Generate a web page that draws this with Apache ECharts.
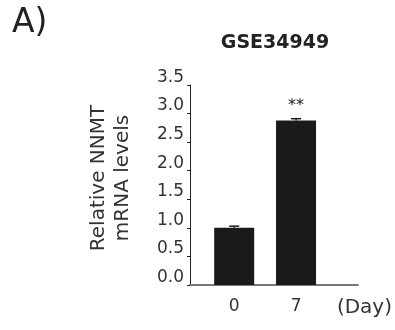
<!DOCTYPE html>
<html>
<head>
<meta charset="utf-8">
<script src="https://cdn.jsdelivr.net/npm/echarts@6/dist/echarts.min.js"></script>
<style>html,body{margin:0;padding:0;background:#fff}#c{width:395px;height:330px}</style>
</head>
<body>
<div id="c"></div>
<script>
var days = [0, 7];
var values = [1.0, 2.88];
var errors = [0.03, 0.03];
var marks = ['', '**'];
var yTicks = [0, 0.5, 1.0, 1.5, 2.0, 2.5, 3.0, 3.5];

var chart = echarts.init(document.getElementById('c'), null, {renderer: 'canvas'});
var font = 'DejaVu Sans';
chart.setOption({
  animation: false,
  backgroundColor: '#fff',
  title: [
    {text: 'A)', left: 7, top: 2, textStyle: {fontFamily: font, fontSize: 33, fontWeight: 'normal', color: '#222'}},
    {text: 'GSE34949', left: 270, top: 29, textAlign: 'center', textStyle: {fontFamily: font, fontSize: 19, fontWeight: 'bold', color: '#222'}}
  ],
  grid: {left: 190, right: 37, top: 85, bottom: 45},
  xAxis: {
    type: 'value', min: -5, max: 14,
    splitLine: {show: false},
    axisLine: {show: true, lineStyle: {color: '#777', width: 2}},
    axisTick: {show: false},
    axisLabel: {customValues: days, margin: 13, fontFamily: font, fontSize: 17, color: '#333'},
    name: '(Day)', nameLocation: 'end', nameGap: -21,
    nameTextStyle: {fontFamily: font, fontSize: 20, color: '#333', verticalAlign: 'top', padding: [13, 0, 0, 0]}
  },
  yAxis: {
    type: 'value', min: 0, max: 3.5, interval: 0.5,
    splitLine: {show: false},
    axisLine: {show: true, onZero: false, lineStyle: {color: '#222', width: 1}},
    axisTick: {show: true, length: 3, lineStyle: {color: '#222'}},
    axisLabel: {margin: 6, fontFamily: font, fontSize: 17, color: '#333', verticalAlign: 'bottom', lineHeight: 15,
      formatter: function (v) { return v.toFixed(1); }},
    name: 'Relative NNMT\nmRNA levels', nameLocation: 'middle', nameGap: 55,
    nameTextStyle: {fontFamily: font, fontSize: 20, color: '#333', lineHeight: 24, padding: [0, 0, 0, 14]}
  },
  series: [
    {
      type: 'bar',
      barWidth: 40,
      data: days.map(function (d, i) { return [d, values[i]]; }),
      itemStyle: {color: '#1a1a1a'},
      label: {show: true, position: 'top', distance: 7, fontFamily: font, fontSize: 16, color: '#222',
        formatter: function (p) { return marks[p.dataIndex]; }},
      z: 2
    },
    {
      type: 'custom',
      data: days.map(function (d, i) { return [d, values[i], errors[i]]; }),
      renderItem: function (params, api) {
        var x = api.value(0), v = api.value(1), e = api.value(2);
        var p0 = api.coord([x, v]);
        var p1 = api.coord([x, v + e]);
        return {
          type: 'group',
          children: [
            {type: 'line', shape: {x1: p0[0], y1: p0[1], x2: p1[0], y2: p1[1]}, style: {stroke: '#1a1a1a', lineWidth: 1.5}},
            {type: 'line', shape: {x1: p1[0] - 5, y1: p1[1], x2: p1[0] + 5, y2: p1[1]}, style: {stroke: '#1a1a1a', lineWidth: 1.5}}
          ]
        };
      },
      z: 3
    }
  ]
});
</script>
</body>
</html>
